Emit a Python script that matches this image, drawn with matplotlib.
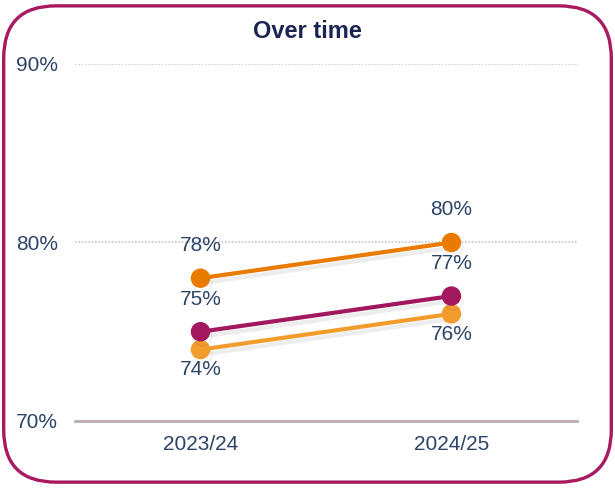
import matplotlib
matplotlib.use("Agg")
import matplotlib.pyplot as plt
from matplotlib.patches import FancyBboxPatch
import matplotlib.patheffects as pe

categories = ["2023/24", "2024/25"]
series_top = [78, 80]
series_mid = [75, 77]
series_low = [74, 76]
yticks = [70, 80, 90]
ytick_labels = ["70%", "80%", "90%"]
title = "Over time"

plt.rcParams['font.family'] = ['Liberation Sans', 'DejaVu Sans']
text_col = "#2B4468"

fig = plt.figure(figsize=(6.15, 4.88), dpi=100)
fig.patch.set_facecolor("white")

border = FancyBboxPatch((0.006, 0.012), 0.988, 0.976,
                        boxstyle="round,pad=0,rounding_size=0.085",
                        transform=fig.transFigure, facecolor="none",
                        edgecolor="#A8195F", linewidth=2.4, mutation_aspect=615/488)
fig.patches.append(border)

ax = fig.add_axes([0.122, 0.1373, 0.816, 0.7316])
ax.set_xlim(-0.5, 1.5)
ax.set_ylim(70, 90)

for v in [80, 90]:
    ax.axhline(v, color="#C9C9C9", linestyle=(0, (1, 1)), linewidth=1.2, zorder=0)
ax.axhline(70, color="#B9AEB2", linewidth=2, zorder=1, clip_on=False)

for s in ax.spines.values():
    s.set_visible(False)

x = list(range(len(categories)))
shadow = [pe.SimpleLineShadow(offset=(1.5, -3.5), shadow_color="black", alpha=0.07), pe.Normal()]

specs = [
    (series_low, "#F39C2E", 14.5),
    (series_mid, "#A3175F", -23.5),
    (series_top, "#E97B00", -23.5),
]
for vals, col, off in specs:
    ax.plot(x, vals, color=col, linewidth=3, marker="o", markersize=13,
            solid_capstyle="round", zorder=3, path_effects=shadow)
    for xi, v in zip(x, vals):
        ax.annotate(f"{v}%", (xi, v), xytext=(0, -off), textcoords="offset points",
                    ha="center", va="center", fontsize=15, color=text_col, zorder=4)

ax.set_yticks(yticks)
ax.set_yticklabels(ytick_labels)
ax.set_xticks(x)
ax.set_xticklabels(categories)
ax.tick_params(axis="y", length=0, pad=12, labelsize=15, labelcolor=text_col)
ax.tick_params(axis="x", length=0, pad=10, labelsize=15, labelcolor=text_col)

fig.text(0.5, 0.936, title, ha="center", va="center", fontsize=17,
         fontweight="bold", color="#1B2551")

fig.savefig("out.png", dpi=100)
